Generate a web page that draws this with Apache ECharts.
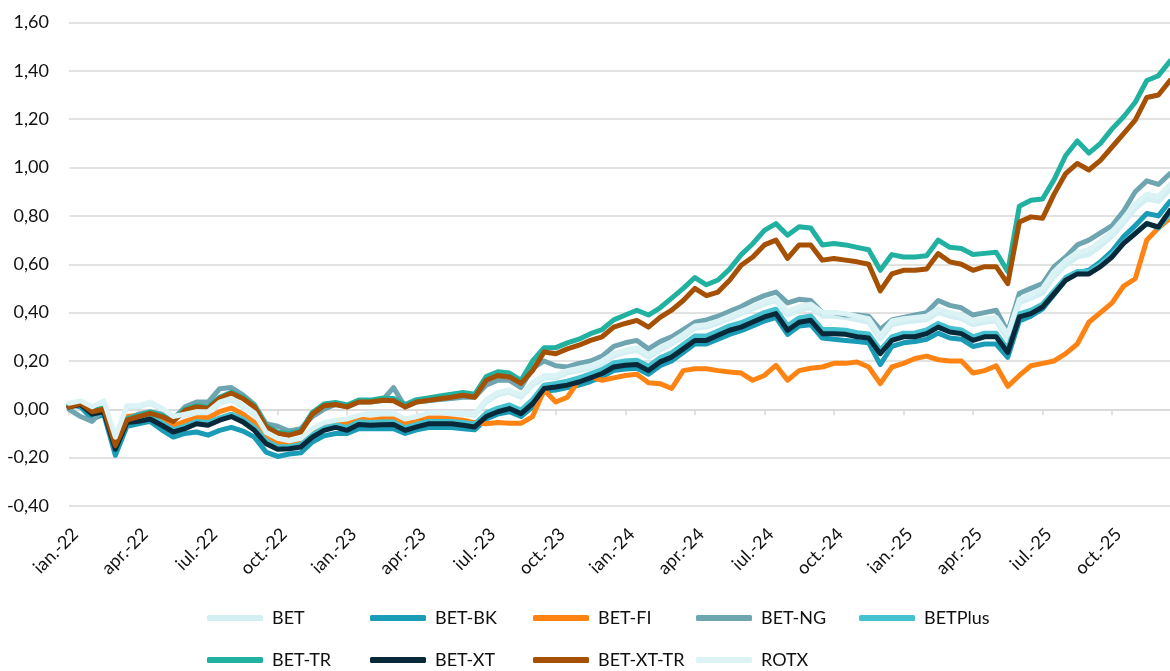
<!DOCTYPE html>
<html>
<head>
<meta charset="utf-8">
<script src="https://cdn.jsdelivr.net/npm/echarts@6/dist/echarts.min.js"></script>
<style>
html,body{margin:0;padding:0;background:#fff;}
#chart{width:1170px;height:671px;}
</style>
</head>
<body>
<div id="chart"></div>
<script>
const categories = [
"2022-01-01","2022-01-15","2022-02-01","2022-02-15","2022-03-01","2022-03-15","2022-04-01","2022-04-15","2022-05-01","2022-05-15","2022-06-01","2022-06-15",
"2022-07-01","2022-07-15","2022-08-01","2022-08-15","2022-09-01","2022-09-15","2022-10-01","2022-10-15","2022-11-01","2022-11-15","2022-12-01","2022-12-15",
"2023-01-01","2023-01-15","2023-02-01","2023-02-15","2023-03-01","2023-03-15","2023-04-01","2023-04-15","2023-05-01","2023-05-15","2023-06-01","2023-06-15",
"2023-07-01","2023-07-15","2023-08-01","2023-08-15","2023-09-01","2023-09-15","2023-10-01","2023-10-15","2023-11-01","2023-11-15","2023-12-01","2023-12-15",
"2024-01-01","2024-01-15","2024-02-01","2024-02-15","2024-03-01","2024-03-15","2024-04-01","2024-04-15","2024-05-01","2024-05-15","2024-06-01","2024-06-15",
"2024-07-01","2024-07-15","2024-08-01","2024-08-15","2024-09-01","2024-09-15","2024-10-01","2024-10-15","2024-11-01","2024-11-15","2024-12-01","2024-12-15",
"2025-01-01","2025-01-15","2025-02-01","2025-02-15","2025-03-01","2025-03-15","2025-04-01","2025-04-15","2025-05-01","2025-05-15","2025-06-01","2025-06-15",
"2025-07-01","2025-07-15","2025-08-01","2025-08-15","2025-09-01","2025-09-15","2025-10-01","2025-10-15","2025-11-01","2025-11-15","2025-12-01","2025-12-15"
];
const tickLabels = ["ian.-22","apr.-22","iul.-22","oct.-22","ian.-23","apr.-23","iul.-23","oct.-23","ian.-24","apr.-24","iul.-24","oct.-24","ian.-25","apr.-25","iul.-25","oct.-25"];
const yTickValues = [-0.4,-0.2,0,0.2,0.4,0.6,0.8,1.0,1.2,1.4,1.6];

const seriesNames = ["BET","BET-BK","BET-FI","BET-NG","BETPlus","BET-TR","BET-XT","BET-XT-TR","ROTX"];
const seriesColors = ["#d3eff3","#1a9bb6","#ff8312","#6ea5b0","#46c1cf","#21b1a0","#07293a","#a55003","#dcf3f6"];

const BET = [
0.02,0.03,0.005,0.03,-0.12,0.01,0.01,0.025,0.0,-0.035,
-0.025,-0.015,-0.015,0.025,0.04,0.01,-0.02,-0.1,-0.125,-0.135,
-0.125,-0.085,-0.06,-0.05,-0.045,-0.03,-0.02,-0.02,-0.02,-0.045,
-0.035,-0.02,-0.02,-0.02,-0.02,-0.025,0.03,0.06,0.07,0.05,
0.1,0.13,0.13,0.15,0.16,0.17,0.19,0.22,0.235,0.245,
0.215,0.245,0.27,0.3,0.335,0.34,0.355,0.375,0.395,0.415,
0.435,0.45,0.39,0.41,0.42,0.385,0.385,0.38,0.37,0.36,
0.29,0.35,0.36,0.365,0.37,0.4,0.385,0.375,0.35,0.36,
0.365,0.29,0.44,0.46,0.48,0.55,0.595,0.63,0.64,0.675,
0.715,0.77,0.83,0.87,0.86,0.91];
const BET_BK = [
0.02,0.01,-0.04,-0.02,-0.19,-0.07,-0.06,-0.05,-0.085,-0.115,
-0.1,-0.094,-0.107,-0.087,-0.075,-0.09,-0.115,-0.177,-0.195,-0.185,
-0.18,-0.135,-0.11,-0.1,-0.1,-0.08,-0.08,-0.08,-0.08,-0.1,
-0.085,-0.075,-0.075,-0.075,-0.08,-0.085,-0.04,-0.02,-0.01,-0.03,
0.01,0.075,0.08,0.09,0.1,0.115,0.135,0.16,0.167,0.17,
0.145,0.18,0.2,0.235,0.27,0.27,0.29,0.31,0.325,0.345,
0.365,0.38,0.31,0.345,0.35,0.295,0.29,0.285,0.28,0.275,
0.185,0.26,0.275,0.28,0.29,0.315,0.295,0.29,0.26,0.27,
0.27,0.215,0.365,0.385,0.415,0.475,0.535,0.565,0.575,0.61,
0.655,0.715,0.76,0.81,0.8,0.86];
const BET_FI = [
0.01,0.02,0.0,0.0,-0.15,-0.03,-0.025,-0.015,-0.04,-0.07,
-0.05,-0.035,-0.035,-0.01,0.005,-0.02,-0.055,-0.115,-0.14,-0.14,
-0.13,-0.09,-0.06,-0.05,-0.06,-0.04,-0.045,-0.04,-0.04,-0.06,
-0.05,-0.035,-0.035,-0.04,-0.045,-0.055,-0.06,-0.055,-0.058,-0.058,
-0.03,0.08,0.03,0.05,0.12,0.134,0.12,0.13,0.14,0.145,
0.11,0.106,0.086,0.16,0.168,0.168,0.16,0.154,0.15,0.12,
0.14,0.182,0.12,0.16,0.17,0.175,0.19,0.19,0.196,0.175,
0.106,0.175,0.19,0.21,0.22,0.205,0.2,0.2,0.15,0.16,
0.18,0.095,0.14,0.18,0.19,0.2,0.23,0.27,0.36,0.4,
0.44,0.51,0.54,0.7,0.75,0.79];
const BET_NG = [
0.0,-0.03,-0.05,0.0,-0.16,-0.04,-0.02,-0.01,-0.02,-0.04,
0.01,0.03,0.03,0.085,0.09,0.06,0.02,-0.06,-0.07,-0.09,
-0.08,-0.03,0.0,0.02,0.01,0.03,0.03,0.035,0.09,0.01,
0.03,0.035,0.04,0.045,0.05,0.05,0.1,0.12,0.12,0.09,
0.17,0.2,0.18,0.175,0.19,0.2,0.22,0.26,0.275,0.285,
0.25,0.28,0.3,0.33,0.36,0.37,0.385,0.405,0.425,0.45,
0.47,0.485,0.44,0.455,0.45,0.4,0.4,0.39,0.39,0.385,
0.33,0.37,0.38,0.39,0.4,0.45,0.43,0.42,0.39,0.4,
0.41,0.32,0.48,0.5,0.52,0.59,0.63,0.68,0.7,0.73,
0.76,0.82,0.9,0.945,0.93,0.975];
const BETPlus = [
0.015,0.025,-0.01,0.0,-0.155,-0.045,-0.04,-0.03,-0.055,-0.085,
-0.07,-0.05,-0.055,-0.035,-0.02,-0.04,-0.075,-0.13,-0.155,-0.155,
-0.145,-0.105,-0.077,-0.065,-0.075,-0.052,-0.055,-0.053,-0.052,-0.076,
-0.062,-0.05,-0.05,-0.05,-0.055,-0.062,-0.015,0.005,0.018,-0.003,
0.04,0.1,0.107,0.116,0.13,0.147,0.165,0.192,0.2,0.203,
0.178,0.213,0.234,0.268,0.303,0.303,0.324,0.345,0.358,0.379,
0.4,0.414,0.345,0.378,0.386,0.33,0.33,0.327,0.317,0.312,
0.245,0.3,0.315,0.316,0.328,0.355,0.335,0.328,0.3,0.315,
0.315,0.25,0.395,0.41,0.435,0.49,0.545,0.57,0.57,0.6,
0.64,0.69,0.73,0.77,0.75,0.81];
const BET_TR = [
0.015,0.03,-0.005,0.005,-0.145,-0.04,-0.025,-0.012,-0.025,-0.045,
0.0,0.015,0.01,0.05,0.07,0.05,0.015,-0.068,-0.095,-0.1,
-0.088,-0.013,0.022,0.028,0.018,0.038,0.038,0.046,0.045,0.02,
0.04,0.047,0.055,0.062,0.07,0.062,0.135,0.155,0.15,0.12,
0.2,0.255,0.255,0.275,0.29,0.313,0.33,0.37,0.39,0.41,
0.39,0.42,0.46,0.5,0.545,0.515,0.535,0.58,0.64,0.685,
0.74,0.768,0.72,0.755,0.75,0.68,0.686,0.68,0.67,0.66,
0.575,0.64,0.63,0.63,0.635,0.7,0.67,0.665,0.64,0.645,
0.65,0.57,0.84,0.865,0.87,0.95,1.05,1.11,1.06,1.1,
1.16,1.21,1.27,1.36,1.38,1.44];
const BET_XT = [
0.01,0.02,-0.02,-0.01,-0.165,-0.055,-0.05,-0.04,-0.066,-0.094,
-0.08,-0.06,-0.066,-0.045,-0.03,-0.052,-0.087,-0.142,-0.165,-0.163,
-0.156,-0.115,-0.087,-0.075,-0.087,-0.063,-0.066,-0.064,-0.063,-0.087,
-0.073,-0.06,-0.06,-0.06,-0.066,-0.073,-0.03,-0.01,0.003,-0.018,
0.023,0.086,0.092,0.1,0.113,0.13,0.148,0.175,0.182,0.185,
0.16,0.196,0.216,0.25,0.285,0.285,0.306,0.327,0.34,0.361,
0.382,0.396,0.327,0.36,0.368,0.313,0.313,0.31,0.3,0.295,
0.23,0.285,0.3,0.3,0.313,0.34,0.32,0.313,0.285,0.3,
0.3,0.235,0.382,0.396,0.423,0.478,0.534,0.56,0.56,0.59,
0.63,0.686,0.727,0.768,0.754,0.823];
const BET_XT_TR = [
0.01,0.025,-0.01,0.0,-0.15,-0.045,-0.03,-0.017,-0.03,-0.05,
-0.005,0.01,0.004,0.045,0.066,0.045,0.01,-0.073,-0.1,-0.107,
-0.094,-0.02,0.015,0.02,0.01,0.03,0.03,0.037,0.035,0.01,
0.03,0.037,0.044,0.05,0.058,0.05,0.12,0.14,0.134,0.107,
0.16,0.237,0.23,0.25,0.265,0.285,0.3,0.34,0.355,0.368,
0.34,0.38,0.41,0.45,0.5,0.47,0.485,0.534,0.596,0.63,
0.68,0.7,0.624,0.68,0.68,0.617,0.624,0.617,0.61,0.6,
0.49,0.56,0.575,0.575,0.58,0.644,0.61,0.6,0.575,0.59,
0.59,0.52,0.775,0.796,0.79,0.89,0.975,1.017,0.99,1.03,
1.085,1.14,1.196,1.29,1.3,1.36];
const ROTX = [
0.025,0.035,0.01,0.035,-0.115,0.015,0.015,0.03,0.005,-0.03,
-0.02,-0.01,-0.01,0.03,0.045,0.015,-0.015,-0.095,-0.12,-0.13,
-0.12,-0.08,-0.055,-0.045,-0.04,-0.025,-0.015,-0.015,-0.015,-0.04,
-0.03,-0.015,-0.015,-0.015,-0.015,-0.02,0.04,0.07,0.08,0.06,
0.11,0.14,0.14,0.16,0.17,0.18,0.2,0.23,0.245,0.255,
0.225,0.255,0.28,0.31,0.345,0.35,0.365,0.385,0.405,0.425,
0.445,0.46,0.405,0.425,0.435,0.4,0.4,0.395,0.385,0.375,
0.305,0.365,0.375,0.38,0.385,0.415,0.4,0.39,0.365,0.375,
0.38,0.31,0.455,0.475,0.5,0.57,0.615,0.65,0.66,0.695,
0.735,0.79,0.85,0.89,0.88,0.93];

const seriesData = [BET, BET_BK, BET_FI, BET_NG, BETPlus, BET_TR, BET_XT, BET_XT_TR, ROTX];

const FONT = "Lato, 'Open Sans', sans-serif";
const chart = echarts.init(document.getElementById('chart'), null, {renderer: 'canvas'});

const quarterTick = (idx) => idx % 6 === 0;

const legendPos = [
  [207, 609],[370, 609],[533, 609],[696, 609],[859, 609],
  [207, 651],[370, 651],[533, 651],[696, 651]
];

const option = {
  animation: false,
  backgroundColor: '#ffffff',
  grid: {left: 69, right: 0, top: 22.5, bottom: 165, containLabel: false},
  legend: seriesNames.map((n, i) => ({
    data: [n],
    left: legendPos[i][0],
    top: legendPos[i][1],
    padding: 0,
    icon: 'roundRect',
    itemWidth: 56,
    itemHeight: 6,
    selectedMode: false,
    textStyle: {fontFamily: FONT, fontSize: 18, color: '#111', padding: [0, 0, 0, 4]}
  })),
  xAxis: [
    {
      type: 'category',
      data: categories,
      boundaryGap: false,
      position: 'bottom',
      axisLine: {show: true, onZero: true, lineStyle: {color: '#d9d9d9', width: 1.5}},
      axisTick: {show: true, interval: quarterTick, length: 6, lineStyle: {color: '#d9d9d9', width: 1.5}},
      axisLabel: {show: false},
      splitLine: {show: false}
    },
    {
      type: 'category',
      data: categories,
      boundaryGap: false,
      position: 'bottom',
      axisLine: {show: false, onZero: false},
      axisTick: {show: false},
      axisLabel: {
        show: true,
        interval: quarterTick,
        rotate: 45,
        margin: 19,
        align: 'right',
        verticalAlign: 'top',
        fontFamily: FONT,
        fontSize: 18,
        color: '#111',
        formatter: (v, idx) => tickLabels[Math.round(idx / 6)]
      },
      splitLine: {show: false}
    }
  ],
  yAxis: {
    type: 'value',
    min: yTickValues[0],
    max: yTickValues[yTickValues.length - 1],
    interval: 0.2,
    axisLine: {show: false},
    axisTick: {show: false},
    axisLabel: {
      margin: 20,
      fontFamily: FONT,
      fontSize: 18,
      color: '#111',
      formatter: (v) => v.toFixed(2).replace('.', ',')
    },
    splitLine: {lineStyle: {color: '#d9d9d9', width: 1.5}}
  },
  series: seriesNames.map((n, i) => ({
    name: n,
    type: 'line',
    xAxisIndex: 0,
    data: seriesData[i],
    showSymbol: false,
    symbol: 'none',
    color: seriesColors[i],
    lineStyle: {width: 5, color: seriesColors[i], cap: 'round', join: 'round'},
    emphasis: {disabled: true}
  }))
};
chart.setOption(option);
</script>
</body>
</html>
